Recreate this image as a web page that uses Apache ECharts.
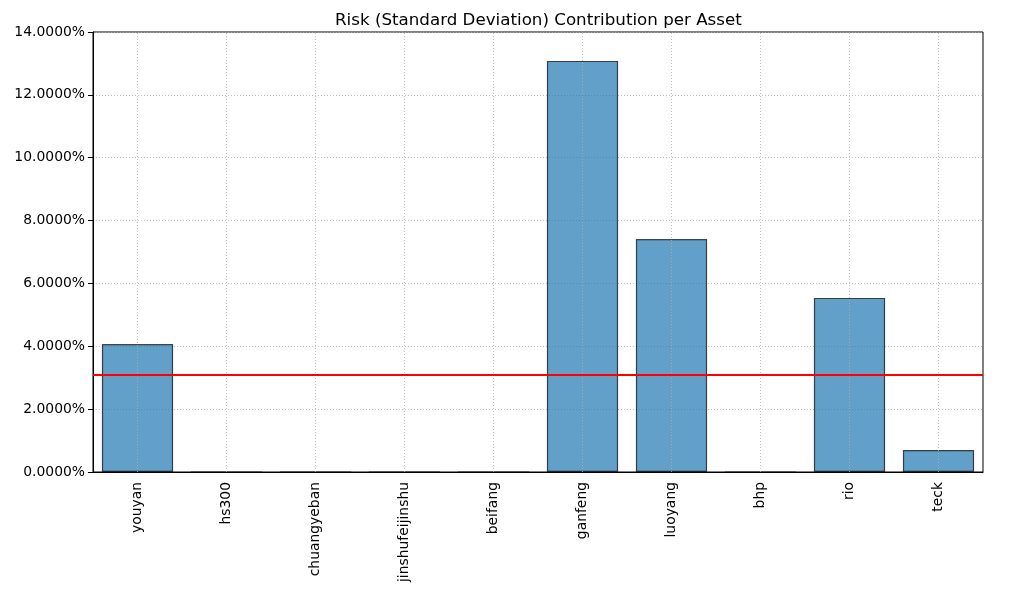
<!DOCTYPE html>
<html><head><meta charset="utf-8">
<script src="https://cdn.jsdelivr.net/npm/echarts@6/dist/echarts.min.js"></script>
<style>html,body{margin:0;padding:0;background:#fff}#c{width:1017px;height:593px}</style>
</head><body><div id="c"></div>
<script>
const categories = ['youyan','hs300','chuangyeban','jinshufeijinshu','beifang','ganfeng','luoyang','bhp','rio','teck'];
const riskContribution = [4.07, 0, 0, 0, 0, 13.08, 7.41, 0, 5.54, 0.70];
const meanLine = 3.08;
const yTicks = {min: 0, max: 14, interval: 2};

const font = 'DejaVu Sans';
const chart = echarts.init(document.getElementById('c'));
chart.setOption({
  animation: false,
  backgroundColor: '#fff',
  title: {text: 'Risk (Standard Deviation) Contribution per Asset', left: 330, top: 7,
    textStyle: {fontFamily: font, fontSize: 16.7, fontWeight: 'normal', color: '#000'}},
  grid: {left: 93, right: 34, top: 32, bottom: 121, show: true, borderColor: '#000', borderWidth: 1, backgroundColor: 'transparent'},
  xAxis: {type: 'category', data: categories, boundaryGap: true,
    axisLine: {lineStyle: {color: '#000'}},
    axisTick: {alignWithLabel: true, length: 5, lineStyle: {color: '#000'}},
    axisLabel: {rotate: 90, fontFamily: font, fontSize: 13.9, color: '#000', margin: 10},
    splitLine: {show: false}},
  yAxis: {type: 'value', min: yTicks.min, max: yTicks.max, interval: yTicks.interval,
    axisLine: {show: true, lineStyle: {color: '#000'}},
    axisTick: {show: true, length: 5, lineStyle: {color: '#000'}},
    axisLabel: {fontFamily: font, fontSize: 13.9, color: '#000', margin: 8, formatter: v => v.toFixed(4) + '%'},
    splitLine: {show: true, lineStyle: {color: '#b0b0b0', type: [1, 2], width: 0.8}}},
  series: [
    {type: 'line', data: [], z: 1, silent: true,
      markLine: {silent: true, symbol: 'none', label: {show: false},
        lineStyle: {color: '#b0b0b0', type: [1, 2], width: 0.8},
        data: categories.map(c => ({xAxis: c}))}},
    {type: 'bar', data: riskContribution, barWidth: '80%', z: 2,
      itemStyle: {color: 'rgba(31,119,180,0.7)', borderColor: 'rgba(0,0,0,0.7)', borderWidth: 1.2},
      markLine: {silent: true, symbol: 'none', label: {show: false},
        lineStyle: {color: '#ff0000', type: 'solid', width: 2},
        data: [{yAxis: meanLine}]}}
  ]
});
</script></body></html>
